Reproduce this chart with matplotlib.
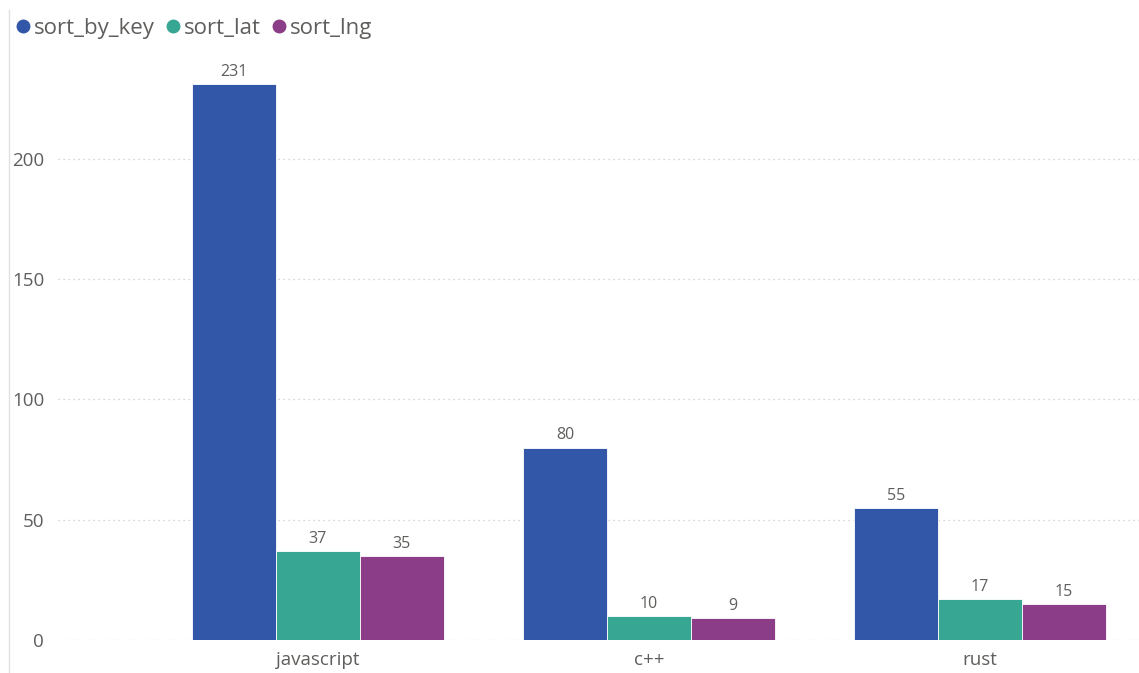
import matplotlib
matplotlib.use("Agg")
import matplotlib.pyplot as plt
from matplotlib.lines import Line2D
import numpy as np

plt.rcParams["font.family"] = ["Open Sans", "DejaVu Sans"]

# ── data ──────────────────────────────────────────────────────────────────────
languages = ["javascript", "c++", "rust"]
series_names = ["sort_by_key", "sort_lat", "sort_lng"]
sort_by_key = [231, 80, 55]
sort_lat = [37, 10, 17]
sort_lng = [35, 9, 15]
y_ticks = [0, 50, 100, 150, 200]

COLORS = ["#3257A8", "#37A794", "#8B3D88"]
TEXT = "#605E5C"

fig = plt.figure(figsize=(11.39, 6.73), dpi=100)
ax = fig.add_axes([58 / 1139, 33 / 673, 1 - 58 / 1139, (640 - 45) / 673])

x = np.arange(len(languages))
w = 0.253
for i, (name, vals) in enumerate(zip(series_names, [sort_by_key, sort_lat, sort_lng])):
    xs = x + (i - 1) * w
    bars = ax.bar(xs, vals, w, color=COLORS[i], edgecolor="white",
                  linewidth=0.6, zorder=3, label=name)
    for b, v in zip(bars, vals):
        ax.annotate(f"{v}", (b.get_x() + b.get_width() / 2, v),
                    textcoords="offset points", xytext=(0, 3),
                    ha="center", va="bottom", fontsize=11.5, color=TEXT)

ax.set_xlim(-0.785, 2.48)
ax.set_ylim(0, 247.4)
ax.set_yticks(y_ticks)
ax.set_xticks(x)
ax.set_xticklabels(languages)
ax.tick_params(axis="both", length=0, colors=TEXT, labelsize=13.5)
ax.tick_params(axis="y", pad=10)
ax.tick_params(axis="x", pad=8)
ax.grid(axis="y", linestyle=(0, (1, 3)), color="#C8C8C8", linewidth=0.9, zorder=0)
for s in ax.spines.values():
    s.set_visible(False)

# thin frame line on the left edge of the visual
fig.add_artist(Line2D([9 / 1139, 9 / 1139], [0, 1 - 10 / 673],
                      transform=fig.transFigure, color="#E1E1E1", linewidth=1))

handles = [Line2D([0], [0], marker="o", linestyle="none", markersize=9,
                  markerfacecolor=c, markeredgecolor=c) for c in COLORS]
fig.legend(handles, series_names, loc="upper left", bbox_to_anchor=(3 / 1139, 1 - 9 / 673),
           ncol=3, frameon=False, handletextpad=0.0, columnspacing=0.3,
           handlelength=1.0, fontsize=16, labelcolor=TEXT, borderaxespad=0)

fig.savefig("out.png", dpi=100)
